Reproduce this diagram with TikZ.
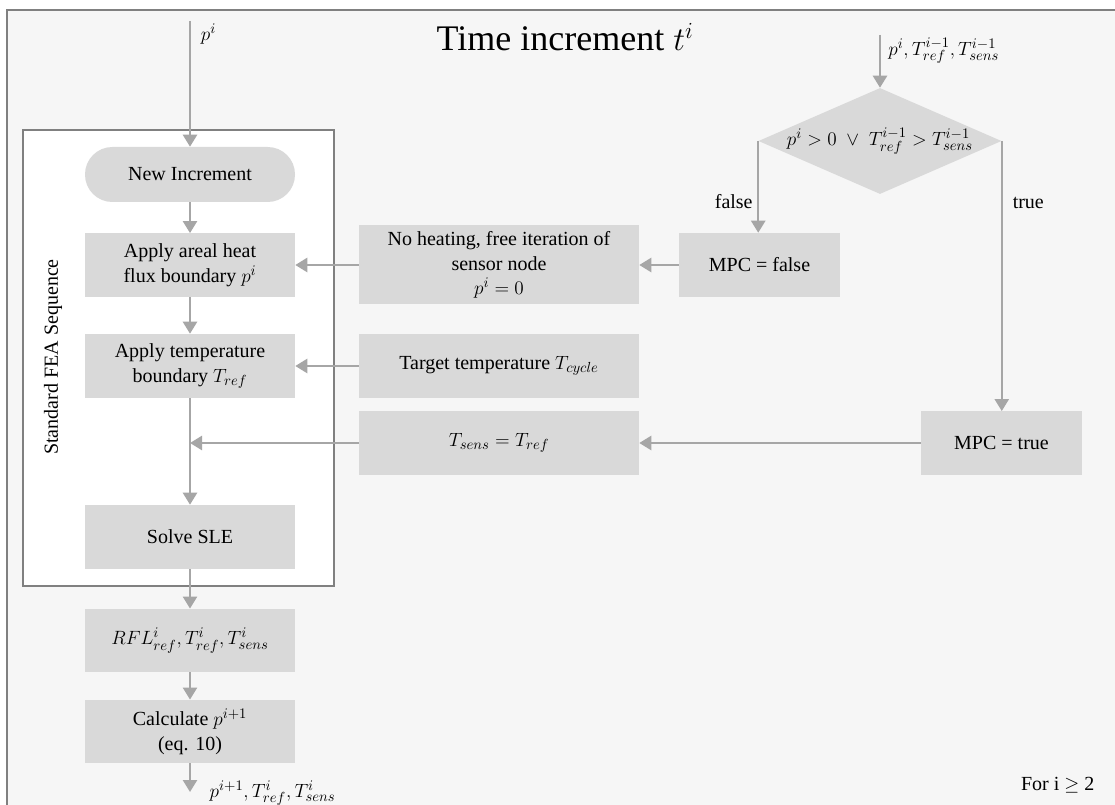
\documentclass[tikz,border=0pt]{standalone}
\usepackage{fontspec}
\setmainfont{Liberation Serif}
\usepackage{tikz}
\usetikzlibrary{arrows.meta, shapes, positioning, calc}

\definecolor{boxgray}{HTML}{D9D9D9}
\definecolor{arrgray}{HTML}{A6A6A6}
\definecolor{framegray}{HTML}{808080}
\definecolor{bggray}{HTML}{F6F6F6}

\begin{document}
\begin{tikzpicture}
            [x=0.75pt, y=-0.75pt, >={Triangle[width=10.5pt,length=9pt]},
            font=\fontsize{15pt}{18.5pt}\selectfont,
            link/.style={->, draw=arrgray, line width=1.8pt},
            procbox/.style={rectangle, fill=boxgray, align=center, inner sep=0pt, minimum width=157.5pt, minimum height=47.5pt},
            midbox/.style={procbox, minimum width=210pt},
            mpcbox/.style={procbox, minimum width=120.75pt},
            termbox/.style={procbox, rounded corners=20.5pt, minimum height=41.25pt},
            decision/.style={diamond, fill=boxgray, inner sep=0pt, minimum width=182.25pt, minimum height=79.5pt}]

            \useasboundingbox (0,0) rectangle (1115,805);
            \clip (0,0) rectangle (1115,805);
            \draw[framegray, line width=1.8pt, fill=bggray] (7,10) rectangle (1135,835);

            % standard sequence frame
            \node[draw=framegray, line width=1.6pt, fill=white, inner sep=0pt,
                  minimum width=233.25pt, minimum height=342pt] (fea) at (178.5,358) {};
            \node[rotate=90] (fealbl) at (53,357) {Standard FEA Sequence};

            \node (title) at (565,37) {\fontsize{27pt}{30pt}\selectfont Time increment $t^i$};

            % left column
            \coordinate (inl) at (190,21);
            \node[termbox] (newinc) at (190,174.5) {New Increment};
            \node[procbox] (areal) at (190,265) {Apply areal heat\\flux boundary $p^i$};
            \node[procbox, minimum height=48pt] (tempb) at (190,366) {Apply temperature\\boundary $T_{ref}$};
            \coordinate (junc) at (190,443);
            \node[procbox, minimum height=48pt] (solve) at (190,537) {Solve SLE};
            \node[procbox] (rfl) at (190,640.5) {$RFL^i_{ref}, T^i_{ref}, T^i_{sens}$};
            \node[procbox] (calc) at (190,731.5) {Calculate $p^{i+1}$\\(eq. 10)};
            \coordinate (outp) at (190,792);
            \node[anchor=west] (outlbl) at (205,793) {$p^{i+1}, T^i_{ref}, T^i_{sens}$};

            % middle column
            \node[midbox, minimum height=59.25pt] (noheat) at (499,265) {No heating, free iteration of\\sensor node\\$p^i = 0$};
            \node[midbox, minimum height=48pt] (target) at (499,366) {Target temperature $T_{cycle}$};
            \node[midbox] (tsens) at (499,443) {$T_{sens} = T_{ref}$};

            % right column
            \coordinate (decin) at (880,35);
            \node[decision, label={[name=declbl]center:$p^i > 0 \;\vee\; T^{i-1}_{ref} > T^{i-1}_{sens}$}] (dec) at (880,141) {};
            \node[mpcbox, minimum height=48pt] (mpcf) at (759.5,265) {MPC = false};
            \node[mpcbox] (mpct) at (1001.5,443) {MPC = true};

            \node[anchor=east] (note) at (1099,785) {For i $\geq$ 2};

            \draw[link] (inl) -- node[pos=0.1, right, xshift=4pt] (pinlbl) {$p^i$} (newinc);
            \draw[link] (newinc) -- (areal);
            \draw[link] (areal) -- (tempb);
            \draw[link] (tempb) -- (solve);
            \draw[link] (solve) -- (rfl);
            \draw[link] (rfl) -- (calc);
            \draw[link] (calc) -- (outp);

            \draw[link] (decin) -- node[pos=0.3, right, xshift=2pt] (declin) {$p^i, T^{i-1}_{ref}, T^{i-1}_{sens}$} (dec.north);
            \draw[link] (dec.west) -- node[pos=0.66, left] (falselbl) {false} (dec.west |- mpcf.north);
            \draw[link] (dec.east) -- node[pos=0.23, right, xshift=4pt] (truelbl) {true} (dec.east |- mpct.north);

            \draw[link] (mpcf) -- (noheat);
            \draw[link] (noheat) -- (areal);
            \draw[link] (target) -- (tempb);
            \draw[link] (mpct) -- (tsens);
            \draw[link] (tsens) -- (junc);

          \end{tikzpicture}
\end{document}
